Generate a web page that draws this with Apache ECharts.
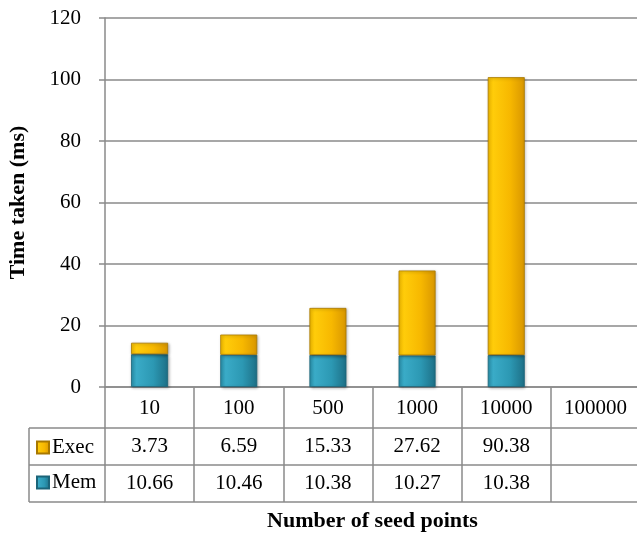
<!DOCTYPE html>
<html><head><meta charset="utf-8">
<script src="https://cdn.jsdelivr.net/npm/echarts@6/dist/echarts.min.js"></script>
<style>html,body{margin:0;padding:0;background:#fff}#c{width:637px;height:536px}</style>
</head><body><div id="c"></div>
<script>
var categories = ['10','100','500','1000','10000','100000'];
var memValues = [10.66, 10.46, 10.38, 10.27, 10.38, null];
var execValues = [3.73, 6.59, 15.33, 27.62, 90.38, null];
var seriesNames = ['Exec','Mem'];
var yTicks = {min:0, max:120, interval:20};

var FONT = '"Liberation Serif", serif';
var GRAY = '#8a8a8a';
var FS = 21;
var chart = echarts.init(document.getElementById('c'));

function fmt(arr){ return function(v, i){ return arr[i] == null ? '' : arr[i].toFixed(2); }; }

var execColor = new echarts.graphic.LinearGradient(0,0,1,0,[
  {offset:0,color:'#F7BE00'},{offset:0.15,color:'#FFCC0A'},{offset:0.6,color:'#F7B800'},{offset:1,color:'#D89600'}]);
var memColor = new echarts.graphic.LinearGradient(0,0,1,0,[
  {offset:0,color:'#2A93AE'},{offset:0.15,color:'#3AABC7'},{offset:0.6,color:'#2C98B3'},{offset:1,color:'#1D6F86'}]);

var baseX = {type:'category', data:categories, position:'bottom', boundaryGap:true,
  axisLine:{show:true, lineStyle:{color:GRAY, width:1.5}},
  axisTick:{show:true, interval:0, length:41, lineStyle:{color:GRAY, width:1.5}},
  splitLine:{show:false}};

var option = {
  animation:false,
  textStyle:{fontFamily:FONT},
  grid:{left:105, right:-3, top:18, bottom:149, outerBoundsMode:'none', containLabel:false},
  legend:{data:seriesNames, orient:'vertical', left:31, top:432, itemWidth:12, itemHeight:12, itemGap:14,
    icon:'rect', textStyle:{fontFamily:FONT, fontSize:FS, color:'#000', padding:[0,0,0,-2]}},
  xAxis:[
    Object.assign({}, baseX, {axisLabel:{show:true, interval:0, margin:11, fontSize:FS, color:'#000', fontFamily:FONT}}),
    Object.assign({}, baseX, {offset:41, axisTick:{show:true, interval:0, length:37, lineStyle:{color:GRAY, width:1.5}},
      axisLabel:{show:true, interval:0, margin:8, fontSize:FS, color:'#000', fontFamily:FONT, formatter:fmt(execValues)}}),
    Object.assign({}, baseX, {offset:78, axisTick:{show:true, interval:0, length:37, lineStyle:{color:GRAY, width:1.5}},
      axisLabel:{show:true, interval:0, margin:8, fontSize:FS, color:'#000', fontFamily:FONT, formatter:fmt(memValues)}}),
    Object.assign({}, baseX, {offset:115, axisTick:{show:false}, axisLabel:{show:false},
      name:'Number of seed points', nameLocation:'middle', nameGap:8,
      nameTextStyle:{fontFamily:FONT, fontSize:22, fontWeight:'bold', color:'#000'}})
  ],
  yAxis:{type:'value', min:yTicks.min, max:yTicks.max, interval:yTicks.interval,
    name:'Time taken (ms)', nameLocation:'middle', nameGap:76, nameRotate:90,
    nameTextStyle:{fontFamily:FONT, fontSize:22, fontWeight:'bold', color:'#000'},
    axisLine:{show:true, lineStyle:{color:GRAY, width:1.5}},
    axisTick:{show:true, length:6, lineStyle:{color:GRAY, width:1.5}},
    axisLabel:{margin:24, fontSize:FS, color:'#000', fontFamily:FONT},
    splitLine:{show:true, lineStyle:{color:GRAY, width:1.5}}},
  series:[
    {name:'Mem', type:'bar', stack:'t', xAxisIndex:0, data:memValues, barWidth:37,
      itemStyle:{color:memColor, borderColor:'#1B6479', borderWidth:0.8, shadowBlur:3, shadowColor:'rgba(0,0,0,0.3)', shadowOffsetX:1, shadowOffsetY:1}},
    {name:'Exec', type:'bar', stack:'t', xAxisIndex:0, data:execValues, barWidth:37,
      itemStyle:{color:execColor, borderColor:'#A87800', borderWidth:0.8, shadowBlur:3, shadowColor:'rgba(0,0,0,0.3)', shadowOffsetX:1, shadowOffsetY:1}}
  ],
  graphic:[
    {type:'line', shape:{x1:29,y1:428,x2:105,y2:428}, style:{stroke:GRAY, lineWidth:1.5}},
    {type:'line', shape:{x1:29,y1:465,x2:105,y2:465}, style:{stroke:GRAY, lineWidth:1.5}},
    {type:'line', shape:{x1:29,y1:502,x2:105,y2:502}, style:{stroke:GRAY, lineWidth:1.5}},
    {type:'line', shape:{x1:29,y1:428,x2:29,y2:502}, style:{stroke:GRAY, lineWidth:1.5}}
  ]
};
chart.setOption(option);
</script></body></html>
